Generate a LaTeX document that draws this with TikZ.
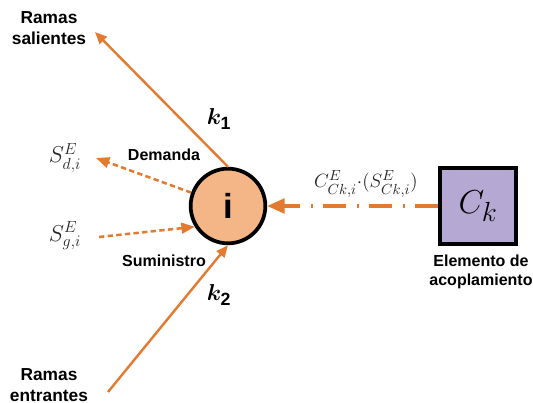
\documentclass[tikz,border=0pt]{standalone}
\usepackage{fontspec}
\setmainfont{Liberation Sans}
\usepackage{amsmath,bm}
\usetikzlibrary{arrows.meta}

\definecolor{rama}{RGB}{226,122,48}
\definecolor{nodofill}{RGB}{244,182,134}
\definecolor{acopfill}{RGB}{181,168,210}
\definecolor{simbolo}{RGB}{35,35,35}

\tikzset{every picture/.style={line width=0.75pt}}

\begin{document}
\begin{tikzpicture}[
            x=0.75pt,
            y=0.75pt,
            yscale=-1,
            xscale=1,
            every node/.style={text=black},
            line width=0.75pt,
            etiqueta/.style={font=\fontsize{12}{14}\selectfont\bfseries, align=center, inner sep=0.75pt},
            ramas/.style={font=\fontsize{13}{15.5}\selectfont\bfseries, align=center, inner sep=0.75pt},
            flujo/.style={draw=rama, line width=1.8pt, -{Triangle[length=9pt,width=7.5pt]}},
            punteado/.style={draw=rama, line width=1.9pt, dash pattern={on 4pt off 2.5pt}, -{Triangle[length=10pt,width=8pt]}}
        ]
            \useasboundingbox (0,0) rectangle (533,403);

            % nodo y elemento de acoplamiento
            \node [circle, draw, line width=2.8pt, fill=nodofill, minimum size=56pt, inner sep=0pt] (i) at (228,206) {\fontsize{26}{26}\selectfont\bfseries i};
            \node [draw, line width=3pt, fill=acopfill, minimum size=57pt, inner sep=0pt] (ck) at (478,206) {\fontsize{28}{28}\selectfont$C_k$};

            % extremos libres
            \coordinate (sal) at (95,32);
            \coordinate (ent) at (108,392);
            \coordinate (dem) at (96,158);
            \coordinate (sum) at (99,237);

            % ramas
            \draw [flujo] (i.north) -- (sal);
            \draw [flujo] (ent) -- (i.south);
            \draw [punteado] (i.160) -- (dem);
            \draw [punteado] (sum) -- (i.212);
            \draw [draw=rama, line width=2.3pt, dash pattern={on 17pt off 8pt on 1.5pt off 8pt}, -{Triangle[length=13pt,width=11pt]}] (ck.west) -- (i.east);

            % textos
            \node [ramas] (tsal) at (49,28) {Ramas\\salientes};
            \node [ramas] (tent) at (49,385) {Ramas\\entrantes};
            \node [etiqueta] (tdem) at (164,155) {Demanda};
            \node [etiqueta] (tsum) at (164,261) {Suministro};
            \node [etiqueta] (tacop) at (481,272) {Elemento de\\acoplamiento};
            \node [inner sep=0.75pt] (k1) at (219,119) {\fontsize{19}{19}\selectfont$\bm{k}_{\mathbf{1}}$};
            \node [inner sep=0.75pt] (k2) at (219,295) {\fontsize{19}{19}\selectfont$\bm{k}_{\mathbf{2}}$};
            \node [inner sep=0.75pt, text=simbolo] (sd) at (65,158) {\fontsize{17}{17}\selectfont$S^{E}_{d,i}$};
            \node [inner sep=0.75pt, text=simbolo] (sg) at (65,236) {\fontsize{17}{17}\selectfont$S^{E}_{g,i}$};
            \node [inner sep=0.75pt, text=simbolo] (cflujo) at (366,184) {\fontsize{15}{15}\selectfont$C^{E}_{Ck,i}{\cdot}(S^{E}_{Ck,i})$};
        \end{tikzpicture}
\end{document}
